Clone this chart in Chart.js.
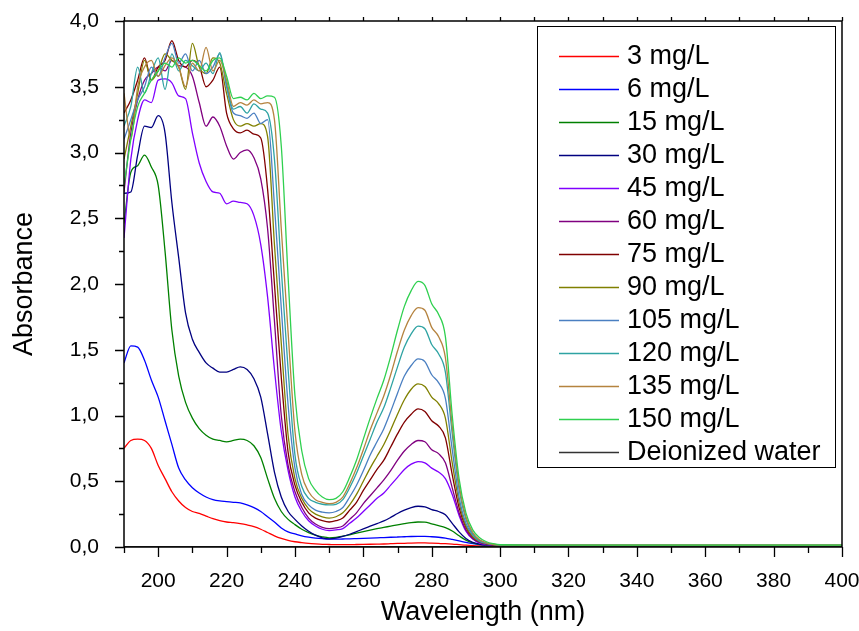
<!DOCTYPE html>
<html>
<head>
<meta charset="utf-8">
<title>Absorbance spectra</title>
<script src="https://cdn.jsdelivr.net/npm/chart.js@4.4.0/dist/chart.umd.min.js"></script>
<style>
  body { margin: 0; background: #fff; }
  canvas { display: block; }
</style>
</head>
<body>
<canvas id="chart" width="859" height="631"></canvas>
<script>
// wavelength grid (nm), read every 2 nm up to 300, then every 10 nm
const wavelengths = [190,192,194,196,198,200,202,204,206,208,210,212,214,216,218,220,
  222,224,226,228,230,232,234,236,238,240,242,244,246,248,250,
  252,254,256,258,260,262,264,266,268,270,272,274,276,278,280,282,284,286,288,290,292,294,296,298,300,
  310,320,330,340,350,360,370,380,390,400];

const mg3 = [0.75,0.81,0.82,0.81,0.75,0.62,0.52,0.42,0.35,0.30,0.27,0.255,0.235,0.215,0.20,0.19,
  0.185,0.178,0.168,0.155,0.135,0.11,0.085,0.065,0.05,0.04,0.033,0.027,0.023,0.02,0.019,
  0.018,0.018,0.018,0.019,0.02,0.021,0.022,0.023,0.025,0.027,0.028,0.03,0.031,0.031,0.029,0.027,0.025,0.022,0.018,0.014,0.011,0.009,0.008,0.007,0.006,
  0.006,0.006,0.006,0.005,0.005,0.005,0.005,0.005,0.005,0.005];
const mg6 = [1.40,1.53,1.52,1.42,1.27,1.14,0.96,0.78,0.60,0.51,0.45,0.41,0.38,0.36,0.35,0.345,
  0.34,0.335,0.32,0.30,0.27,0.23,0.19,0.145,0.115,0.10,0.085,0.075,0.068,0.063,0.06,
  0.06,0.061,0.062,0.064,0.066,0.068,0.07,0.072,0.074,0.076,0.078,0.08,0.081,0.081,0.078,0.074,0.068,0.058,0.047,0.035,0.025,0.018,0.014,0.012,0.01,
  0.009,0.009,0.008,0.008,0.008,0.008,0.008,0.008,0.008,0.008];
const mg15 = [2.46,2.85,2.90,2.98,2.89,2.75,2.25,1.65,1.30,1.10,0.98,0.90,0.85,0.82,0.81,0.80,
  0.81,0.82,0.81,0.77,0.68,0.52,0.37,0.27,0.21,0.17,0.135,0.11,0.09,0.077,0.07,
  0.073,0.082,0.093,0.105,0.117,0.128,0.139,0.149,0.159,0.169,0.178,0.186,0.19,0.189,0.176,0.163,0.148,0.122,0.085,0.052,0.031,0.02,0.015,0.012,0.011,
  0.01,0.01,0.01,0.01,0.01,0.01,0.01,0.01,0.01,0.01];
const mg30 = [2.69,2.70,2.98,3.20,3.19,3.28,3.15,2.62,2.20,1.78,1.58,1.48,1.40,1.36,1.33,1.33,
  1.35,1.37,1.35,1.28,1.14,0.86,0.57,0.38,0.27,0.21,0.16,0.12,0.09,0.07,0.062,
  0.068,0.08,0.097,0.117,0.138,0.158,0.178,0.198,0.225,0.255,0.28,0.30,0.31,0.305,0.285,0.27,0.245,0.18,0.115,0.065,0.035,0.022,0.016,0.013,0.012,
  0.011,0.011,0.011,0.011,0.011,0.011,0.011,0.011,0.011,0.011];
const mg45 = [2.35,2.95,3.25,3.40,3.38,3.55,3.56,3.53,3.43,3.41,3.15,2.92,2.78,2.70,2.69,2.61,
  2.63,2.62,2.61,2.52,2.30,1.90,1.35,0.88,0.58,0.38,0.27,0.20,0.16,0.135,0.125,
  0.13,0.14,0.18,0.22,0.27,0.32,0.37,0.41,0.47,0.53,0.59,0.63,0.65,0.64,0.60,0.57,0.52,0.40,0.24,0.12,0.06,0.03,0.018,0.014,0.012,
  0.011,0.011,0.011,0.011,0.011,0.011,0.011,0.011,0.011,0.011];
const mg60 = [2.70,3.15,3.40,3.55,3.60,3.65,3.62,3.70,3.66,3.65,3.58,3.38,3.20,3.27,3.20,3.05,
  2.95,3.00,3.02,2.96,2.80,2.42,1.72,1.00,0.62,0.42,0.30,0.22,0.175,0.15,0.14,
  0.145,0.16,0.21,0.26,0.33,0.39,0.45,0.51,0.58,0.66,0.73,0.78,0.81,0.80,0.74,0.71,0.64,0.45,0.26,0.13,0.065,0.035,0.02,0.015,0.012,
  0.011,0.011,0.011,0.011,0.011,0.011,0.011,0.011,0.011,0.011];
const mg75 = [3.30,3.40,3.55,3.72,3.55,3.65,3.70,3.85,3.70,3.65,3.70,3.66,3.50,3.55,3.65,3.30,
  3.18,3.15,3.17,3.14,3.11,2.72,2.00,1.29,0.72,0.47,0.34,0.26,0.22,0.20,0.19,
  0.20,0.22,0.28,0.34,0.43,0.51,0.59,0.66,0.76,0.86,0.95,1.01,1.05,1.03,0.96,0.92,0.83,0.55,0.30,0.15,0.075,0.04,0.025,0.017,0.013,
  0.012,0.012,0.012,0.012,0.012,0.012,0.012,0.012,0.012,0.012];
const mg90 = [2.95,3.20,3.45,3.70,3.55,3.62,3.75,3.70,3.65,3.48,3.83,3.65,3.60,3.72,3.68,3.45,
  3.25,3.20,3.22,3.20,3.22,3.12,2.30,1.55,0.85,0.52,0.37,0.29,0.25,0.23,0.22,
  0.23,0.26,0.32,0.40,0.50,0.60,0.69,0.78,0.89,1.01,1.12,1.20,1.24,1.22,1.14,1.09,0.98,0.64,0.34,0.16,0.08,0.04,0.025,0.018,0.014,
  0.012,0.012,0.012,0.012,0.012,0.012,0.012,0.012,0.012,0.012];
const mg105 = [3.10,3.25,3.40,3.50,3.65,3.58,3.72,3.83,3.68,3.75,3.62,3.70,3.60,3.65,3.75,3.50,
  3.30,3.28,3.26,3.30,3.22,3.25,2.60,1.82,1.08,0.60,0.40,0.32,0.28,0.265,0.26,
  0.27,0.30,0.38,0.47,0.58,0.70,0.80,0.90,1.03,1.17,1.30,1.38,1.43,1.41,1.31,1.25,1.13,0.74,0.38,0.18,0.09,0.045,0.027,0.019,0.015,
  0.013,0.013,0.013,0.013,0.013,0.013,0.013,0.013,0.013,0.013];
const mg120 = [3.20,3.35,3.65,3.45,3.60,3.72,3.48,3.75,3.62,3.70,3.66,3.62,3.68,3.60,3.76,3.52,
  3.33,3.35,3.30,3.37,3.33,3.30,2.95,2.11,1.35,0.70,0.46,0.37,0.34,0.325,0.32,
  0.325,0.36,0.45,0.56,0.69,0.82,0.95,1.06,1.21,1.37,1.52,1.62,1.68,1.66,1.54,1.47,1.33,0.86,0.44,0.21,0.10,0.05,0.03,0.02,0.015,
  0.013,0.013,0.013,0.013,0.013,0.013,0.013,0.013,0.013,0.013];
const mg135 = [3.45,3.10,3.50,3.65,3.70,3.58,3.66,3.72,3.65,3.50,3.68,3.62,3.80,3.62,3.70,3.55,
  3.35,3.38,3.36,3.40,3.37,3.38,3.25,2.42,1.63,0.88,0.55,0.42,0.36,0.34,0.33,
  0.34,0.38,0.48,0.60,0.74,0.89,1.02,1.15,1.31,1.49,1.65,1.76,1.82,1.80,1.67,1.60,1.44,0.92,0.47,0.23,0.11,0.055,0.032,0.021,0.016,
  0.014,0.014,0.014,0.014,0.014,0.014,0.014,0.014,0.014,0.014];
const mg150 = [2.75,3.10,3.35,3.45,3.55,3.62,3.68,3.65,3.72,3.68,3.70,3.66,3.62,3.70,3.72,3.58,
  3.41,3.42,3.40,3.45,3.41,3.43,3.42,3.05,2.05,1.15,0.73,0.52,0.43,0.38,0.36,
  0.37,0.42,0.53,0.66,0.82,0.98,1.13,1.27,1.45,1.65,1.83,1.95,2.02,1.99,1.85,1.77,1.60,1.00,0.52,0.26,0.13,0.07,0.04,0.025,0.017,
  0.015,0.015,0.015,0.015,0.015,0.015,0.015,0.015,0.015,0.015];
const water = [0.003,0.003,0.003,0.003,0.003,0.003,0.003,0.003,0.003,0.003,0.003,0.003,0.003,0.003,0.003,0.003,
  0.003,0.003,0.003,0.003,0.003,0.003,0.003,0.003,0.003,0.003,0.003,0.003,0.003,0.003,0.003,
  0.003,0.003,0.003,0.003,0.003,0.003,0.003,0.003,0.003,0.003,0.003,0.003,0.003,0.003,0.003,0.003,0.003,0.003,0.003,0.003,0.003,0.003,0.003,0.003,0.003,
  0.003,0.003,0.003,0.003,0.003,0.003,0.003,0.003,0.003,0.003];

const seriesLabels = ["3 mg/L", "6 mg/L", "15 mg/L", "30 mg/L", "45 mg/L", "60 mg/L", "75 mg/L",
  "90 mg/L", "105 mg/L", "120 mg/L", "135 mg/L", "150 mg/L", "Deionized water"];
const seriesValues = [mg3, mg6, mg15, mg30, mg45, mg60, mg75, mg90, mg105, mg120, mg135, mg150, water];
const seriesColors = ["#ff0000", "#0000ff", "#008000", "#000080", "#8000ff", "#800080", "#800000",
  "#808000", "#4a7fc1", "#2ea3a3", "#b5833f", "#2fd04f", "#333333"];

const xTickValues = [200, 220, 240, 260, 280, 300, 320, 340, 360, 380, 400];
const yTickValues = [0, 0.5, 1.0, 1.5, 2.0, 2.5, 3.0, 3.5, 4.0];

const FONT = '"Liberation Sans", Arial, sans-serif';

// frame, minor ticks and the boxed legend, drawn on top of the plot
const frameAndLegend = {
  id: "frameAndLegend",
  afterDraw(chart) {
    const ctx = chart.ctx;
    const a = chart.chartArea;
    const xs = chart.scales.x;
    const ys = chart.scales.y;
    ctx.save();
    ctx.strokeStyle = "#000";
    ctx.lineWidth = 1.5;
    ctx.strokeRect(a.left, a.top, a.right - a.left, a.bottom - a.top);

    ctx.lineWidth = 1.3;
    ctx.beginPath();
    for (let i = 0; i <= 16; i++) {
      const y = Math.round(ys.getPixelForValue(i * 0.25)) + 0.5;
      const len = i % 2 === 0 ? 9 : 5;
      ctx.moveTo(a.left - len, y);
      ctx.lineTo(a.left, y);
    }
    for (let w = 190; w <= 400; w += 10) {
      const x = Math.round(xs.getPixelForValue(w)) + 0.5;
      const len = w % 20 === 0 ? 10 : 6;
      ctx.moveTo(x, a.bottom);
      ctx.lineTo(x, a.bottom + len);
      ctx.moveTo(x, a.top);
      ctx.lineTo(x, a.top - 4);
    }
    ctx.stroke();

    // legend box
    const box = { left: 537.5, top: 26.5, right: 835.5, bottom: 467.5 };
    ctx.fillStyle = "#fff";
    ctx.fillRect(box.left, box.top, box.right - box.left, box.bottom - box.top);
    ctx.lineWidth = 1;
    ctx.strokeStyle = "#000";
    ctx.strokeRect(box.left, box.top, box.right - box.left, box.bottom - box.top);

    ctx.font = "27px " + FONT;
    ctx.textBaseline = "middle";
    ctx.textAlign = "left";
    chart.data.datasets.forEach((ds, i) => {
      const y = 56 + i * 33;
      ctx.strokeStyle = ds.borderColor;
      ctx.lineWidth = 1.5;
      ctx.beginPath();
      ctx.moveTo(559, y + 0.5);
      ctx.lineTo(619, y + 0.5);
      ctx.stroke();
      ctx.fillStyle = "#000";
      ctx.fillText(ds.label, 627, y + 1);
    });
    ctx.restore();
  }
};

new Chart(document.getElementById("chart"), {
  type: "line",
  data: {
    datasets: seriesLabels.map((label, i) => ({
      label: label,
      data: wavelengths.map((w, j) => ({ x: w, y: seriesValues[i][j] })),
      borderColor: seriesColors[i],
      borderWidth: 1.3,
      pointRadius: 0,
      cubicInterpolationMode: "monotone",
      fill: false,
      order: -i
    }))
  },
  options: {
    responsive: false,
    animation: false,
    events: [],
    layout: { padding: { top: 21, right: 17, left: 0, bottom: 0 } },
    plugins: {
      legend: { display: false },
      tooltip: { enabled: false }
    },
    scales: {
      x: {
        type: "linear",
        min: 190,
        max: 400,
        afterBuildTicks: (s) => { s.ticks = xTickValues.map((v) => ({ value: v })); },
        afterFit: (s) => { s.height = 84; s.paddingLeft = 0; s.paddingRight = 0; },
        grid: { display: false },
        border: { display: false },
        ticks: {
          color: "#000",
          padding: 14,
          maxRotation: 0,
          autoSkip: false,
          font: { family: FONT, size: 21 },
          callback: (v) => String(v)
        },
        title: {
          display: true,
          text: "Wavelength (nm)",
          color: "#000",
          font: { family: FONT, size: 27 },
          padding: { top: 0, bottom: 2 }
        }
      },
      y: {
        min: 0,
        max: 4,
        afterBuildTicks: (s) => { s.ticks = yTickValues.map((v) => ({ value: v })); },
        afterFit: (s) => { s.width = 124; s.paddingTop = 0; s.paddingBottom = 0; },
        grid: { display: false },
        border: { display: false },
        ticks: {
          color: "#000",
          padding: 17,
          font: { family: FONT, size: 21 },
          callback: (v) => v.toFixed(1).replace(".", ",")
        },
        title: {
          display: true,
          text: "Absorbance",
          color: "#000",
          font: { family: FONT, size: 27 },
          padding: { top: 8, bottom: 0 }
        }
      }
    }
  },
  plugins: [frameAndLegend]
});
</script>
</body>
</html>
